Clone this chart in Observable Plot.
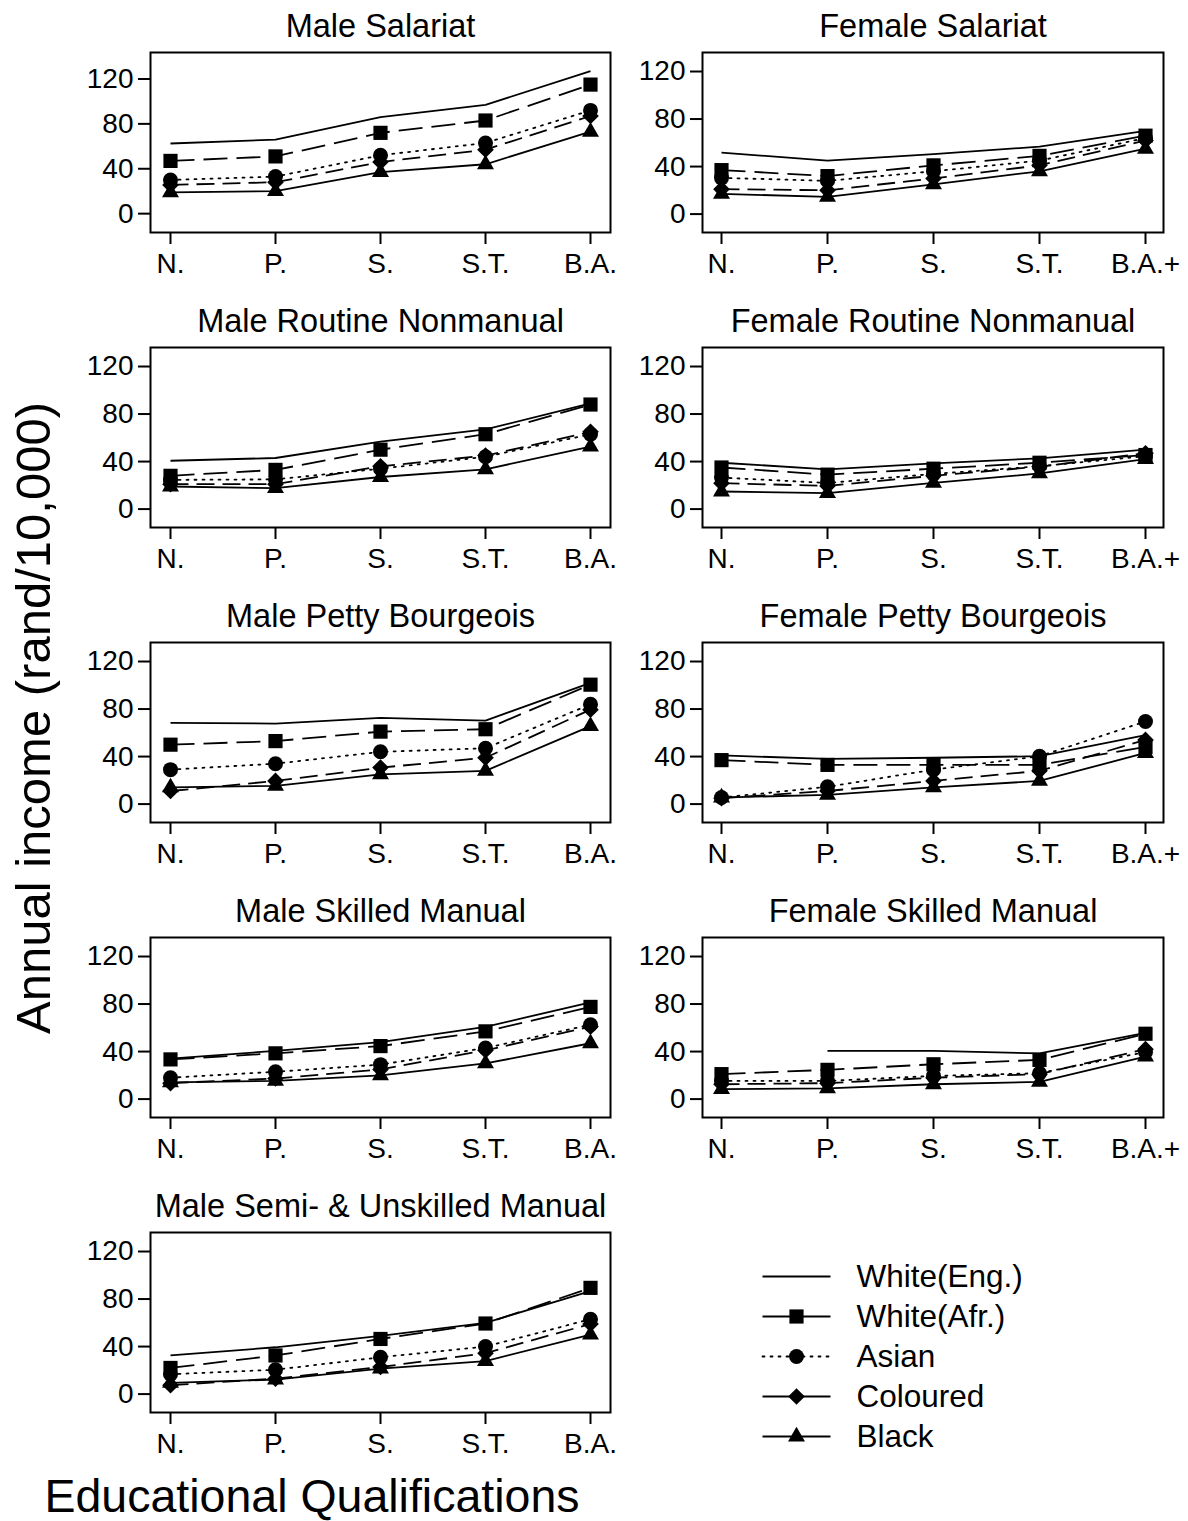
<!DOCTYPE html>
<html>
<head>
<meta charset="utf-8">
<script src="https://cdn.jsdelivr.net/npm/d3@7"></script>
<script src="https://cdn.jsdelivr.net/npm/@observablehq/plot@0.6"></script>
<style>
  html, body { margin: 0; padding: 0; background: #fff; }
  #root { position: relative; width: 1188px; height: 1521px; background: #fff; font-family: "Liberation Sans", Arial, sans-serif; color: #000; overflow: hidden; }
  #root svg { position: absolute; }
  .axis-title { position: absolute; white-space: nowrap; color: #000; }
</style>
</head>
<body>
<div id="root"></div>
<script>
// ---- data ----
const qualsMale = ["N.", "P.", "S.", "S.T.", "B.A."];
const qualsFemale = ["N.", "P.", "S.", "S.T.", "B.A.+"];
const groups = ["White(Eng.)", "White(Afr.)", "Asian", "Coloured", "Black"];
const yTicks = [0, 40, 80, 120];

// rows follow the order of `groups`, columns follow the qualifications
const maleSalariat = [
  [62.5, 66, 86, 97, 127],
  [47, 51, 72, 83, 115],
  [30, 33, 52, 63, 92],
  [25.6, 28, 46, 57, 87],
  [19, 20, 37, 44, 73]
];
const femaleSalariat = [
  [51.7, 45, 50.5, 56.7, 70],
  [37, 32, 41, 49, 66],
  [30.5, 28, 36, 45, 64],
  [21, 20, 30, 41, 62],
  [17, 14.5, 25, 36, 55]
];
const maleRoutine = [
  [40.7, 43, 56.7, 67, 89],
  [28, 33, 50, 63, 88],
  [24.6, 25, 34, 44, 63],
  [21, 21, 36, 45, 65],
  [19, 17.6, 27, 33.5, 52.5]
];
const femaleRoutine = [
  [39, 33.5, 38.5, 42.7, 50],
  [35, 29, 34, 39, 45.5],
  [26.5, 22, 29.6, 36, 44.6],
  [21.8, 19.5, 28, 35.7, 47],
  [14.8, 13.4, 22, 30, 42]
];
const malePetty = [
  [68.4, 67.8, 72.6, 70.3, 102],
  [50, 53, 61, 63, 100.5],
  [29, 34, 44, 47, 84],
  [11, 19.5, 30.7, 39, 79.5],
  [14, 15.3, 25, 28, 65.6]
];
const femalePetty = [
  [41, 38, 39, 40.3, 58],
  [37, 33, 33, 33, 48],
  [5.5, 14.5, 29, 40.3, 69.5],
  [5, 11, 19.5, 28, 54],
  [5.5, 7.8, 14, 19.5, 43]
];
const maleSkilled = [
  [34, 40.6, 48, 60.8, 81.5],
  [33.4, 38.5, 44.6, 57, 77.6],
  [18, 23, 29, 43, 62.6],
  [13.4, 17.3, 25, 41, 61],
  [14, 15.3, 20, 30, 47]
];
const femaleSkilled = [
  [null, 40.6, 40.6, 38.5, 55.8],
  [21, 24.6, 29.3, 33, 55],
  [15.3, 15.3, 19.5, 21.8, 39.6],
  [12.5, 13.4, 18, 21, 42],
  [8.4, 9, 12.5, 14.5, 35.7]
];
const maleSemi = [
  [32.5, 39.4, 49, 60, 86.7],
  [22, 32.5, 46.4, 59.4, 89.4],
  [16.7, 20.5, 31, 40, 63],
  [7.5, 13, 22.8, 34.4, 59],
  [9.4, 12.2, 21.4, 27.8, 50]
];

const panels = [
  {title: "Male Salariat", values: maleSalariat, quals: qualsMale, col: 0, row: 0, yDomain: [-16.8, 143.6]},
  {title: "Female Salariat", values: femaleSalariat, quals: qualsFemale, col: 1, row: 0, yDomain: [-15.5, 136]},
  {title: "Male Routine Nonmanual", values: maleRoutine, quals: qualsMale, col: 0, row: 1, yDomain: [-15.5, 136]},
  {title: "Female Routine Nonmanual", values: femaleRoutine, quals: qualsFemale, col: 1, row: 1, yDomain: [-15.5, 136]},
  {title: "Male Petty Bourgeois", values: malePetty, quals: qualsMale, col: 0, row: 2, yDomain: [-15.5, 136]},
  {title: "Female Petty Bourgeois", values: femalePetty, quals: qualsFemale, col: 1, row: 2, yDomain: [-15.5, 136]},
  {title: "Male Skilled Manual", values: maleSkilled, quals: qualsMale, col: 0, row: 3, yDomain: [-15.5, 136]},
  {title: "Female Skilled Manual", values: femaleSkilled, quals: qualsFemale, col: 1, row: 3, yDomain: [-15.5, 136]},
  {title: "Male Semi- & Unskilled Manual", values: maleSemi, quals: qualsMale, col: 0, row: 4, yDomain: [-15.5, 136]}
];

// ---- styles per series ----
const dashes = [null, "24,9", "2,6", "18,8", null];
const symbols = [null, "square", "circle", "diamond2", "triangle"];
const radii = [0, 8, 7.5, 7.5, 6.3];
const FONT = "'Liberation Sans', Arial, sans-serif";

const root = document.getElementById("root");

// column & row geometry (frame positions)
const cols = [
  {svgLeft: 0, marginLeft: 150, width: 620, marginRight: 10},
  {svgLeft: 640, marginLeft: 62, width: 540, marginRight: 17}
];
const rowFrameTop = [52, 347, 642, 937, 1232];
const frameH = 180, mTop = 50, mBottom = 60;

function seriesRows(values, quals) {
  const out = [];
  values.forEach((arr, i) => arr.forEach((v, j) => out.push({g: groups[i], gi: i, q: quals[j], v})));
  return out;
}

for (const p of panels) {
  const c = cols[p.col];
  const rows = seriesRows(p.values, p.quals);
  const marks = [];
  groups.forEach((g, i) => {
    const d = rows.filter(r => r.gi === i);
    marks.push(Plot.line(d, {x: "q", y: "v", stroke: "black", strokeWidth: 1.8,
      strokeDasharray: dashes[i] || undefined, strokeLinecap: dashes[i] === "2,6" ? "round" : "butt"}));
  });
  groups.forEach((g, i) => {
    if (!symbols[i]) return;
    const d = rows.filter(r => r.gi === i && r.v != null);
    marks.push(Plot.dot(d, {x: "q", y: "v", symbol: () => symbols[i], r: radii[i], fill: "black", stroke: "none"}));
  });
  const chart = Plot.plot({
    width: c.width,
    height: mTop + frameH + mBottom,
    marginLeft: c.marginLeft,
    marginRight: c.marginRight,
    marginTop: mTop,
    marginBottom: mBottom,
    style: {fontFamily: FONT, fontSize: "28px", color: "black", background: "transparent", overflow: "visible"},
    x: {type: "point", domain: p.quals, padding: 0.173},
    y: {domain: p.yDomain},
    symbol: {type: "identity"},
    marks: [
      Plot.axisY({ticks: yTicks, tickSize: 12, tickPadding: 5, fontSize: 28, strokeWidth: 2, label: null}),
      Plot.axisX({tickSize: 12, tickPadding: 9, fontSize: 28, strokeWidth: 2, label: null}),
      ...marks,
      Plot.frame({stroke: "black", strokeWidth: 2}),
      Plot.text([p.title], {frameAnchor: "top", dy: -26, lineAnchor: "middle", fontSize: 32.5, fill: "black"})
    ]
  });
  chart.style.left = c.svgLeft + "px";
  chart.style.top = (rowFrameTop[p.row] - mTop) + "px";
  root.appendChild(chart);
}

// ---- legend, built as its own small Plot ----
const legendRows = groups.map((g, i) => ({g, i}));
const legendMarks = [];
groups.forEach((g, i) => {
  legendMarks.push(Plot.link([legendRows[i]], {x1: () => 22, x2: () => 90, y1: "g", y2: "g",
    stroke: "black", strokeWidth: 1.8, strokeDasharray: dashes[i] === "2,6" ? "2,6" : undefined,
    strokeLinecap: dashes[i] === "2,6" ? "round" : "butt"}));
  if (symbols[i]) legendMarks.push(Plot.dot([legendRows[i]], {x: () => 56, y: "g", symbol: () => symbols[i], r: radii[i], fill: "black", stroke: "none"}));
});
legendMarks.push(Plot.text(legendRows, {x: () => 116, y: "g", text: "g", textAnchor: "start", lineAnchor: "middle", fontSize: 31.5, fill: "black"}));
const legend = Plot.plot({
  width: 400, height: 230, margin: 0,
  style: {fontFamily: FONT, fontSize: "31px", color: "black", background: "transparent", overflow: "visible"},
  x: {type: "linear", domain: [0, 400], range: [0, 400], axis: null},
  y: {type: "point", domain: groups, range: [35, 197], padding: 0, axis: null},
  symbol: {type: "identity"},
  marks: legendMarks
});
legend.style.left = "740px";
legend.style.top = "1240px";
root.appendChild(legend);

// ---- axis titles ----
const yTitle = document.createElement("div");
yTitle.className = "axis-title";
yTitle.textContent = "Annual income (rand/10,000)";
yTitle.style.fontSize = "49px";
yTitle.style.left = "33px";
yTitle.style.top = "718px";
yTitle.style.transform = "translate(-50%, -50%) rotate(-90deg)";
root.appendChild(yTitle);

const xTitle = document.createElement("div");
xTitle.className = "axis-title";
xTitle.textContent = "Educational Qualifications";
xTitle.style.fontSize = "46.5px";
xTitle.style.left = "312px";
xTitle.style.top = "1496px";
xTitle.style.transform = "translate(-50%, -50%)";
root.appendChild(xTitle);
</script>
</body>
</html>
